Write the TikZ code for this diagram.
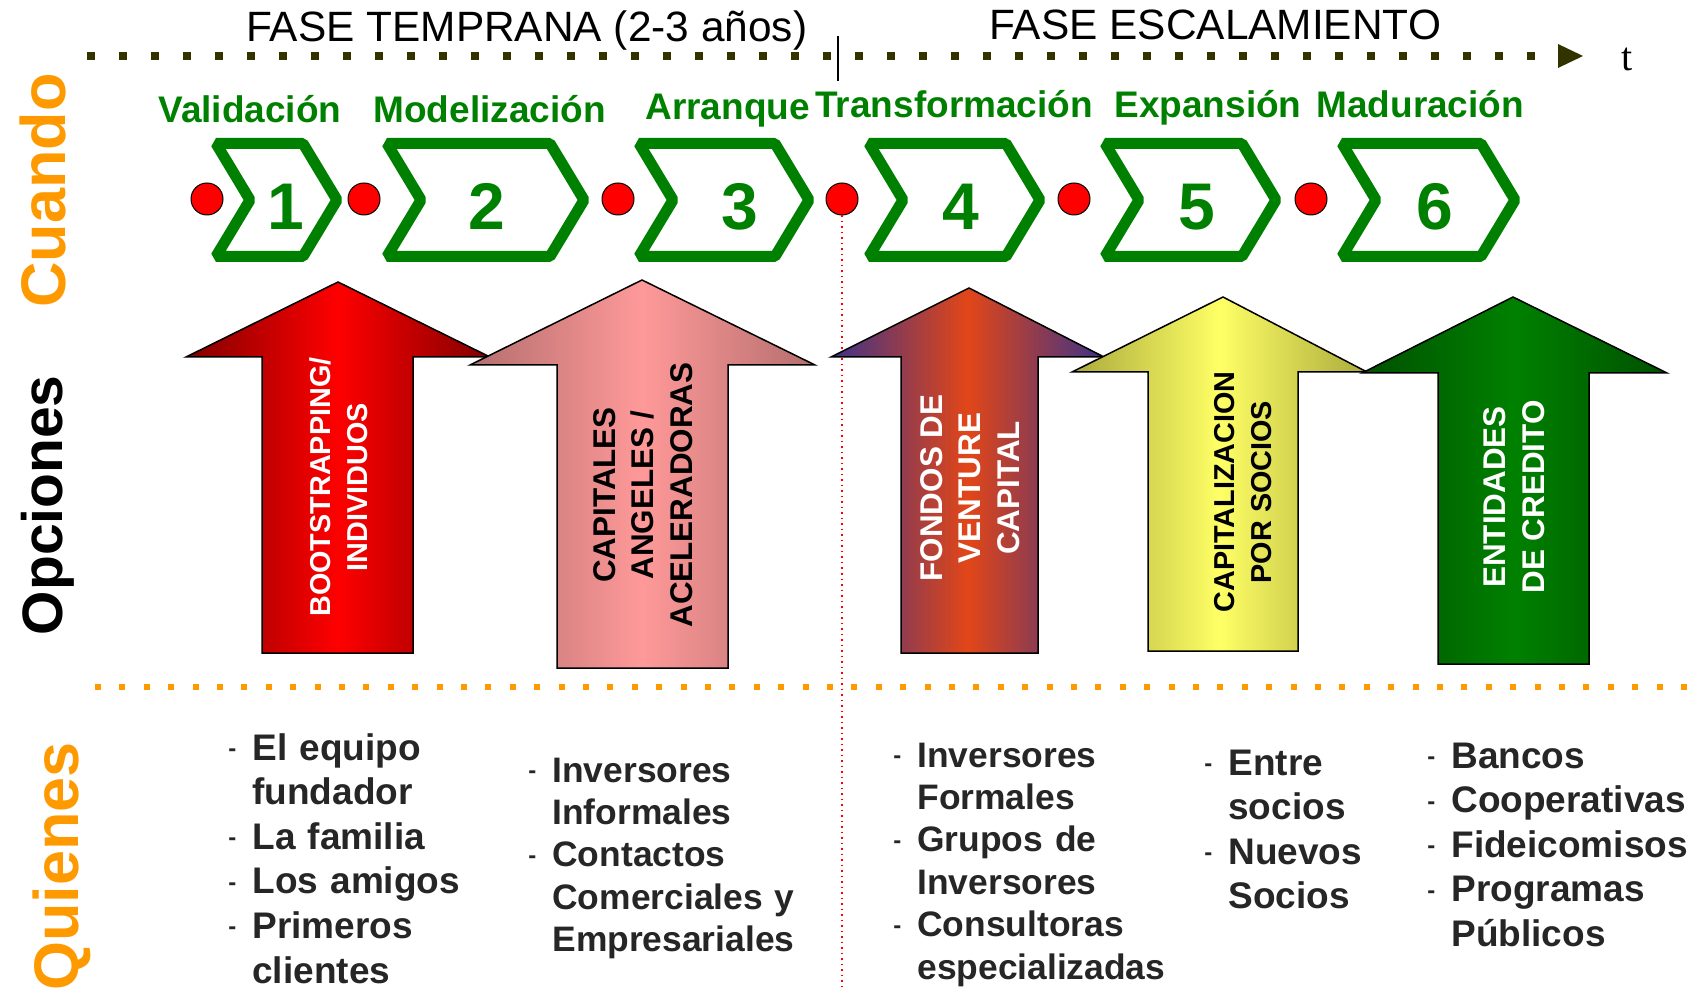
\documentclass[tikz,border=0pt]{standalone}
\usepackage{fontspec}
\setmainfont{Liberation Sans}
\newfontfamily\seriff{Liberation Serif}
\usepackage{tikz}
\usetikzlibrary{arrows.meta}
\definecolor{verde}{RGB}{0,128,0}
\definecolor{naranja}{RGB}{255,153,0}
\definecolor{oliva}{RGB}{51,51,0}
\definecolor{gris}{RGB}{38,38,38}
\newcommand{\guion}{\makebox[12pt][l]{\fontsize{12}{12}\selectfont\raisebox{1.8pt}{-}}}
\newcommand{\sangria}{\hspace*{12pt}}
\tikzstyle{fase} = [anchor=base west, inner sep=0pt, font=\fontsize{21.2}{26}\selectfont]
\tikzstyle{titulo} = [rotate=90, anchor=base east, inner sep=0pt, font=\bfseries\fontsize{31.5}{38}\selectfont]
\tikzstyle{etapa} = [anchor=base west, inner sep=0pt, text=verde, font=\bfseries\fontsize{18.5}{22}\selectfont]
\tikzstyle{chev} = [draw=verde, line width=5.5pt, line join=bevel]
\tikzstyle{num} = [anchor=base, inner sep=0pt, text=verde, font=\bfseries\fontsize{33}{40}\selectfont]
\tikzstyle{hito} = [circle, draw=black, fill=red, line width=0.5pt, minimum size=16pt, inner sep=0pt]
\tikzstyle{flecha} = [draw=black, line width=0.75pt, line join=miter]
\tikzstyle{rotulo} = [rotate=90, align=center, inner sep=0pt, font=\bfseries\fontsize{14.4}{18.5}\selectfont]
\tikzstyle{grande} = [font=\bfseries\fontsize{15.7}{19.4}\selectfont]
\tikzstyle{lista} = [anchor=base west, inner sep=0pt, text width=150pt, align=left, text=gris, font=\bfseries\fontsize{18.5}{22.3}\selectfont]
\tikzstyle{chica} = [font=\bfseries\fontsize{17.7}{21.2}\selectfont]
\tikzstyle{eje} = [draw=oliva, line width=4pt, dash pattern=on 4pt off 12pt, -{Triangle[length=12.5pt,width=12pt,line width=0pt]}]
\tikzstyle{sep} = [draw=naranja, line width=3pt, dash pattern=on 3pt off 9.2pt]
\tikzstyle{corte} = [draw=red, line width=0.75pt, dash pattern=on 0.75pt off 2pt]

\begin{document}
\begin{tikzpicture}[x=0.5pt, y=-0.5pt]
    \useasboundingbox (0,0) rectangle (1691,988);
    % Guide lines
    \coordinate (t0) at (87,56);
    \coordinate (t1) at (1583,56);
    \coordinate (s0) at (95,687);
    \coordinate (s1) at (1691,687);
    \coordinate (c0) at (838,36);
    \coordinate (c1) at (838,81);
    \coordinate (fin) at (842,988);
    \path [eje] (t0) -- (t1);
    \path [sep] (s0) -- (s1);
    \draw [line width=0.75pt] (c0) -- (c1);
    \node [fase] (temprana) at (246,41.5) {FASE TEMPRANA (2-3 años)};
    \node [fase] (escala) at (989,40) {FASE ESCALAMIENTO};
    \node [anchor=base west, inner sep=0pt, font=\seriff\fontsize{20}{24}\selectfont] (t) at (1621,70.5) {t};

    % Place milestones
    \node [hito] (d1) at (207,199) {};
    \node [hito] (d2) at (364,199) {};
    \node [hito] (d3) at (618,199) {};
    \node [hito] (d4) at (842,199) {};
    \node [hito] (d5) at (1074,199) {};
    \node [hito] (d6) at (1311,199) {};
    \path [corte] (d4.south) -- (fin);

    % Stages
    \draw [chev] (216,143.5) -- (303,143.5) -- (337,200) -- (303,256.5) -- (216,256.5) -- (250,200) -- cycle;
    \draw [chev] (387,143.5) -- (550,143.5) -- (584,200) -- (550,256.5) -- (387,256.5) -- (421,200) -- cycle;
    \draw [chev] (639,143.5) -- (775,143.5) -- (809,200) -- (775,256.5) -- (639,256.5) -- (673,200) -- cycle;
    \draw [chev] (869,143.5) -- (1006,143.5) -- (1040,200) -- (1006,256.5) -- (869,256.5) -- (903,200) -- cycle;
    \draw [chev] (1105,143.5) -- (1242,143.5) -- (1276,200) -- (1242,256.5) -- (1105,256.5) -- (1139,200) -- cycle;
    \draw [chev] (1342,143.5) -- (1481,143.5) -- (1515,200) -- (1481,256.5) -- (1342,256.5) -- (1376,200) -- cycle;
    \node [num] (n1) at (286,230) {1};
    \node [num] (n2) at (487,230) {2};
    \node [num] (n3) at (740,230) {3};
    \node [num] (n4) at (961,230) {4};
    \node [num] (n5) at (1197,230) {5};
    \node [num] (n6) at (1435,230) {6};
    \node [etapa] (valid) at (158,123) {Validación};
    \node [etapa] (model) at (373,123) {Modelización};
    \node [etapa] (arranq) at (645,120) {Arranque};
    \node [etapa] (transf) at (815,118) {Transformación};
    \node [etapa] (expan) at (1114,118) {Expansión};
    \node [etapa] (madur) at (1316,118) {Maduración};

    % Options
    \draw [flecha, left color={rgb,255:red,128;green,0;blue,0}, right color={rgb,255:red,128;green,0;blue,0}, middle color=red]
        (338,282) -- (490,357) -- (413,357) -- (413,653) -- (262,653) -- (262,357) -- (186,357) -- cycle;
    \draw [flecha, left color={rgb,255:red,180;green,110;blue,110}, right color={rgb,255:red,180;green,110;blue,110}, middle color={rgb,255:red,255;green,153;blue,153}]
        (642,280) -- (815,365) -- (728,365) -- (728,668) -- (557,668) -- (557,365) -- (470,365) -- cycle;
    \draw [flecha, left color={rgb,255:red,60;green,50;blue,135}, right color={rgb,255:red,60;green,50;blue,135}, middle color={rgb,255:red,226;green,70;blue,24}]
        (969,288) -- (1104,357) -- (1038,357) -- (1038,653) -- (901,653) -- (901,357) -- (831,357) -- cycle;
    \draw [flecha, left color={rgb,255:red,170;green,170;blue,60}, right color={rgb,255:red,170;green,170;blue,60}, middle color={rgb,255:red,255;green,255;blue,102}]
        (1223,297) -- (1367,372) -- (1298,372) -- (1298,651) -- (1148,651) -- (1148,372) -- (1072,372) -- cycle;
    \draw [flecha, left color={rgb,255:red,0;green,80;blue,0}, right color={rgb,255:red,0;green,80;blue,0}, middle color=verde]
        (1513,297) -- (1667,373) -- (1589,373) -- (1589,664) -- (1438,664) -- (1438,373) -- (1362,373) -- cycle;
    \node [rotulo, text=white] (boot) at (339,487) {BOOTSTRAPPING/\\INDIVIDUOS};
    \node [rotulo, grande] (angel) at (643,495) {CAPITALES\\ANGELES /\\ACELERADORAS};
    \node [rotulo, grande, text=white] (venture) at (970,488) {FONDOS DE\\VENTURE\\CAPITAL};
    \node [rotulo] (socios) at (1243,492) {CAPITALIZACION\\POR SOCIOS};
    \node [rotulo, grande, text=white] (credito) at (1514,497) {ENTIDADES\\DE CREDITO};

    % Who
    \node [lista] (equipo) at (228,760) {\guion El equipo\\\sangria fundador\\\guion La familia\\\guion Los amigos\\\guion Primeros\\\sangria clientes};
    \node [lista, chica] (informal) at (528,782) {\guion Inversores\\\sangria Informales\\\guion Contactos\\\sangria Comerciales y\\\sangria Empresariales};
    \node [lista, chica] (formal) at (893,767) {\guion Inversores\\\sangria Formales\\\guion Grupos de\\\sangria Inversores\\\guion Consultoras\\\sangria especializadas};
    \node [lista] (entre) at (1204,775) {\guion Entre\\\sangria socios\\\guion Nuevos\\\sangria Socios};
    \node [lista] (bancos) at (1427,768) {\guion Bancos\\\guion Cooperativas\\\guion Fideicomisos\\\guion Programas\\\sangria Públicos};

    % Row titles
    \node [titulo, text=naranja] (cuando) at (65,73) {Cuando};
    \node [titulo, font=\bfseries\fontsize{28.5}{34}\selectfont] (opciones) at (62,375) {Opciones};
    \node [titulo, text=naranja] (quienes) at (78,742) {Quienes};
\end{tikzpicture}
\end{document}
